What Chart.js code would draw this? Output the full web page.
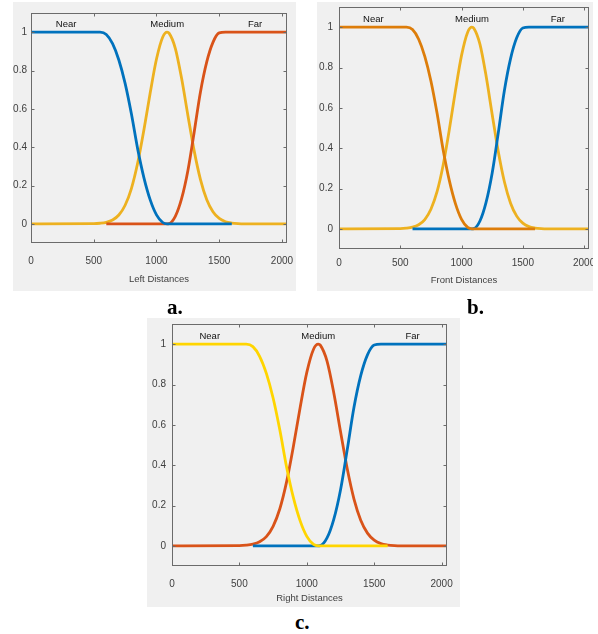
<!DOCTYPE html>
<html>
<head>
<meta charset="utf-8">
<script src="https://cdn.jsdelivr.net/npm/chart.js@4.4.1/dist/chart.umd.min.js"></script>
<style>
  body { margin: 0; background: #fff; width: 598px; height: 634px; position: relative; overflow: hidden; }
  .panel { position: absolute; background: #f0f0f0; }
  .panel canvas { display: block; }
  .tag { position: absolute; font: bold 21px "Liberation Serif", "Times New Roman", serif; line-height: 21px; color: #000; }
</style>
</head>
<body>
<div class="panel" style="left:13px;top:2px;width:283px;height:289px"><canvas id="leftChart" width="283" height="289"></canvas></div>
<div class="panel" style="left:317px;top:2px;width:276px;height:289px"><canvas id="frontChart" width="276" height="289"></canvas></div>
<div class="panel" style="left:147px;top:318px;width:313px;height:289px"><canvas id="rightChart" width="313" height="289"></canvas></div>
<div class="tag" style="left:167px;top:297px">a.</div>
<div class="tag" style="left:467px;top:297px">b.</div>
<div class="tag" style="left:295px;top:612px">c.</div>
<script>
// membership values (same shapes in all three panels)
const distances = [0, 500, 550, 600, 650, 700, 750, 800, 850, 900, 950, 1000, 1050, 1085,
    1100, 1150, 1200, 1250, 1300, 1350, 1400, 1450, 1500, 1550, 1600, 1650, 1700, 2040];
const nearValues = [1, 1, 1, 0.988, 0.94, 0.855, 0.733, 0.574, 0.391, 0.24, 0.125, 0.047, 0.007, 0,
    0, 0, 0, 0, 0, 0, 0, 0, 0, 0, 0, null, null, null];
const mediumValues = [0, 0.001, 0.003, 0.008, 0.02, 0.046, 0.097, 0.184, 0.317, 0.491, 0.684, 0.86, 0.975, 1,
    0.995, 0.916, 0.759, 0.567, 0.382, 0.232, 0.127, 0.063, 0.028, 0.011, 0.004, 0.001, 0, 0];
const farValues = [null, null, null, 0, 0, 0, 0, 0, 0, 0, 0, 0, 0, 0,
    0.001, 0.039, 0.131, 0.277, 0.477, 0.687, 0.844, 0.947, 0.996, 1, 1, 1, 1, 1];

const setNames = ['Near', 'Medium', 'Far'];
const setLabelX = [280, 1085, 1785];
const xTicks = [0, 500, 1000, 1500, 2000];
const yTicks = [0, 0.2, 0.4, 0.6, 0.8, 1];
const xMax = 2040;

const FONT = '"Liberation Sans", Arial, sans-serif';

function toPoints(values) {
    const pts = [];
    distances.forEach((d, i) => {
        if (values[i] !== null) pts.push({ x: d, y: values[i] });
    });
    return pts;
}

// box with inward ticks + set names, like the MATLAB plotmf axes
const boxPlugin = {
    id: 'matlabBox',
    afterDraw(chart) {
        const { ctx, chartArea: a, scales: { x, y } } = chart;
        const l = Math.round(a.left) + 0.5, r = Math.round(a.right) - 0.5;
        const t = Math.round(a.top) + 0.5, b = Math.round(a.bottom) - 0.5;
        ctx.save();
        ctx.strokeStyle = '#6b6b6b';
        ctx.lineWidth = 1;
        ctx.strokeRect(l, t, r - l, b - t);
        ctx.beginPath();
        xTicks.forEach(v => {
            const px = Math.round(x.getPixelForValue(v)) + 0.5;
            ctx.moveTo(px, b); ctx.lineTo(px, b - 3);
            ctx.moveTo(px, t); ctx.lineTo(px, t + 3);
        });
        yTicks.forEach(v => {
            const py = Math.round(y.getPixelForValue(v)) + 0.5;
            ctx.moveTo(l, py); ctx.lineTo(l + 3, py);
            ctx.moveTo(r, py); ctx.lineTo(r - 3, py);
        });
        ctx.stroke();

        ctx.fillStyle = '#111';
        ctx.font = '9.5px ' + FONT;
        ctx.textAlign = 'center';
        ctx.textBaseline = 'alphabetic';
        setNames.forEach((name, i) => {
            ctx.fillText(name, x.getPixelForValue(setLabelX[i]), y.getPixelForValue(1) - 5);
        });
        ctx.restore();
    }
};

function makePanel(id, cfg) {
    const ctx = document.getElementById(id);
    const lines = [
        { values: nearValues, color: cfg.near, order: 0 },
        { values: mediumValues, color: cfg.medium, order: 2 },
        { values: farValues, color: cfg.far, order: 1 }
    ];
    new Chart(ctx, {
        type: 'line',
        data: {
            datasets: lines.map((ln, i) => ({
                label: setNames[i],
                data: toPoints(ln.values),
                borderColor: ln.color,
                borderWidth: 2.8,
                pointRadius: 0,
                fill: false,
                cubicInterpolationMode: 'monotone',
                order: ln.order
            }))
        },
        options: {
            responsive: false,
            animation: false,
            events: [],
            layout: { padding: { top: cfg.top, right: cfg.right, bottom: 0, left: 0 } },
            plugins: {
                legend: { display: false },
                tooltip: { enabled: false }
            },
            scales: {
                x: {
                    type: 'linear',
                    min: 0,
                    max: xMax,
                    grid: { display: false, drawTicks: false },
                    border: { display: false },
                    afterBuildTicks: s => { s.ticks = xTicks.map(v => ({ value: v })); },
                    afterFit: s => { s.height = cfg.xHeight; s.paddingLeft = 0; s.paddingRight = 0; },
                    ticks: {
                        padding: cfg.xPad,
                        color: '#404040',
                        maxRotation: 0,
                        font: { family: FONT, size: 10 },
                        callback: v => String(v)
                    },
                    title: {
                        display: true,
                        text: cfg.title,
                        color: '#404040',
                        padding: { top: 0, bottom: cfg.titlePad },
                        font: { family: FONT, size: 9.5 }
                    }
                },
                y: {
                    min: -0.1,
                    max: 1.1,
                    grid: { display: false, drawTicks: false },
                    border: { display: false },
                    afterBuildTicks: s => { s.ticks = yTicks.map(v => ({ value: v })); },
                    afterFit: s => { s.width = cfg.yWidth; s.paddingTop = 0; s.paddingBottom = 0; },
                    ticks: {
                        padding: cfg.yPad,
                        color: '#404040',
                        font: { family: FONT, size: 10 },
                        callback: v => String(v)
                    }
                }
            }
        },
        plugins: [boxPlugin]
    });
}

document.addEventListener('DOMContentLoaded', () => {
    makePanel('leftChart', {
        title: 'Left Distances',
        near: '#0072BD', medium: '#EDB120', far: '#D95319',
        top: 11, right: 9, yWidth: 18, xHeight: 48, yPad: 4, xPad: 12, titlePad: 6
    });
    makePanel('frontChart', {
        title: 'Front Distances',
        near: '#DD7D0A', medium: '#EDB120', far: '#0072BD',
        top: 5, right: 4, yWidth: 22, xHeight: 42, yPad: 6, xPad: 8, titlePad: 5
    });
    makePanel('rightChart', {
        title: 'Right Distances',
        near: '#FFD500', medium: '#D95319', far: '#0072BD',
        top: 6, right: 13, yWidth: 25, xHeight: 41, yPad: 6, xPad: 12, titlePad: 3
    });
});
</script>
</body>
</html>
